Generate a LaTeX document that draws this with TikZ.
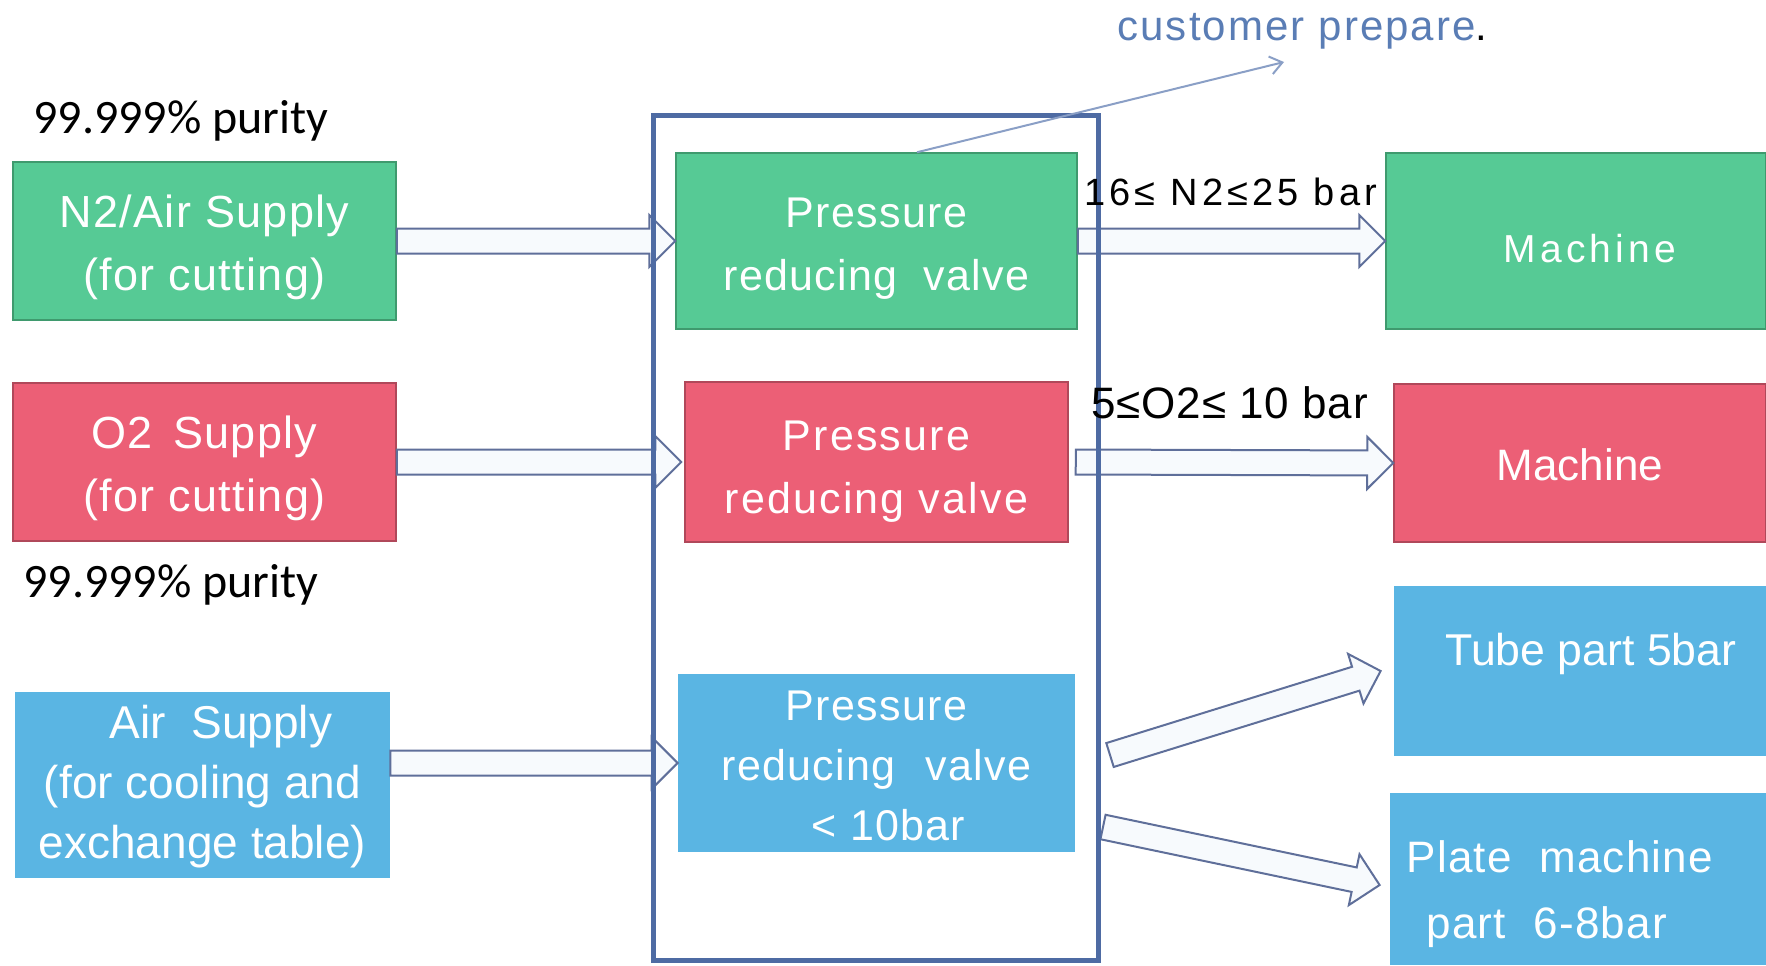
\documentclass[tikz,border=0pt]{standalone}
\usepackage{fontspec}
\setmainfont{Liberation Sans}
\newfontfamily\calfont{Carlito}
\usetikzlibrary{calc,arrows.meta}
\definecolor{gfill}{HTML}{56CA95}
\definecolor{gedge}{HTML}{3F9A6E}
\definecolor{rfill}{HTML}{EC5F76}
\definecolor{redge}{HTML}{B0485A}
\definecolor{bfill}{HTML}{5AB5E3}
\definecolor{framec}{HTML}{4E6BA3}
\definecolor{arredge}{HTML}{5F6F9A}
\definecolor{arrfill}{HTML}{F7FAFD}
\definecolor{custc}{HTML}{5A7DB5}
\definecolor{leadc}{HTML}{8A9FC6}
\begin{document}
\begin{tikzpicture}[x=0.5pt,y=-0.5pt,
  box/.style={rectangle, inner sep=0pt},
  gbox/.style={box, fill=gfill, draw=gedge, line width=0.75pt},
  rbox/.style={box, fill=rfill, draw=redge, line width=0.75pt},
  bbox/.style={box, fill=bfill},
  intext/.style={inner sep=0pt, align=center, text=white},
  supfont/.style={font=\fontsize{22.5pt}{31.5pt}\selectfont\addfontfeature{LetterSpace=3}},
  prvfont/.style={font=\fontsize{21.5pt}{31.5pt}\selectfont\addfontfeature{LetterSpace=3}},
  lbl/.style={inner sep=0pt, anchor=base west},
  wlbl/.style={lbl, text=white},
  framebox/.style={rectangle, draw=framec, line width=2.5pt, inner sep=0pt},
  blockarrow/.style={draw=arredge, fill=arrfill, line width=1pt, line join=miter,
    to path={
      ($(\tikztostart)!6.25pt!90:(\tikztotarget)$)
      -- ($($(\tikztotarget)!13pt!(\tikztostart)$)!6.25pt!90:(\tikztotarget)$)
      -- ($($(\tikztotarget)!13pt!(\tikztostart)$)!13pt!90:(\tikztotarget)$)
      -- (\tikztotarget)
      -- ($($(\tikztotarget)!13pt!(\tikztostart)$)!13pt!-90:(\tikztotarget)$)
      -- ($($(\tikztotarget)!13pt!(\tikztostart)$)!6.25pt!-90:(\tikztotarget)$)
      -- ($(\tikztostart)!6.25pt!-90:(\tikztotarget)$)
      -- cycle}},
  leader/.style={draw=leadc, line width=1pt, -{Straight Barb[length=6pt,width=9pt]}}
]
\useasboundingbox (0,0) rectangle (1766,965);

% source boxes
\node[gbox, minimum width=191.5pt, minimum height=79pt] (n2sup) at (204.5,241) {};
\node[intext, supfont, yshift=-3pt] (n2supt) at (n2sup) {N2/Air Supply\\(for cutting)};
\node[rbox, minimum width=191.5pt, minimum height=79pt] (o2sup) at (204.5,462) {};
\node[intext, supfont, yshift=-3pt] (o2supt) at (o2sup) {O2\hspace{0.45em}Supply\\(for cutting)};
\node[bbox, minimum width=187.5pt, minimum height=93pt] (airsup) at (202.5,785) {};
\node[intext, font=\fontsize{23pt}{30pt}\selectfont, yshift=-1pt] (airsupt) at (airsup)
  {\hspace*{0.8em}Air\ \ Supply\\(for cooling and\\exchange table)};

% valves
\node[gbox, minimum width=200.5pt, minimum height=88pt] (prvg) at (876.5,241) {};
\node[intext, prvfont, yshift=-4pt] (prvgt) at (prvg) {Pressure\\reducing\ \ valve};
\node[rbox, minimum width=191.5pt, minimum height=80pt] (prvr) at (876.5,462) {};
\node[intext, font=\fontsize{21.5pt}{31.5pt}\selectfont\addfontfeature{LetterSpace=5}, yshift=-5pt] (prvrt) at (prvr)
  {Pressure\\reducing valve};
\node[bbox, minimum width=198.5pt, minimum height=89pt] (prvb) at (876.5,763) {};
\node[intext, font=\fontsize{21.5pt}{30pt}\selectfont\addfontfeature{LetterSpace=3}, yshift=-1.5pt] (prvbt) at (prvb)
  {Pressure\\reducing\hspace{0.7em}valve\\\hspace*{0.56em}<\ 10bar};

% machines
\node[gbox, minimum width=190pt, minimum height=88pt] (machg) at (1576,241) {};
\node[intext, font=\fontsize{19.5pt}{24pt}\selectfont\addfontfeature{LetterSpace=11}, yshift=-4pt] (machgt) at ([xshift=7pt]machg.center)
  {Machine};
\node[rbox, minimum width=186pt, minimum height=79pt] (machr) at (1580,463) {};
\node[intext, font=\fontsize{22pt}{26pt}\selectfont, yshift=-1pt] (machrt) at (machr) {Machine};
\node[bbox, minimum width=186pt, minimum height=85pt] (tube) at (1580,671) {};
\node[bbox, minimum width=188pt, minimum height=86pt] (plate) at (1578,879) {};
\node[wlbl, font=\fontsize{22.3pt}{26pt}\selectfont] (tubetxt) at (1445,665) {Tube part 5bar};
\node[wlbl, font=\fontsize{22pt}{26pt}\selectfont\addfontfeature{LetterSpace=3}] (platetxt1) at (1406,872) {Plate\ \ machine};
\node[wlbl, font=\fontsize{22pt}{26pt}\selectfont\addfontfeature{LetterSpace=3}] (platetxt2) at (1426,938) {part\ \ 6-8bar};

% free ends
\coordinate (d1) at (1110,755);
\coordinate (d2) at (1103,827);
\coordinate (cp) at (1284,62);

% block arrows
\draw[blockarrow] (n2sup.east) to (prvg.west);
\draw[blockarrow] (o2sup.east) to ([xshift=-1.5pt]prvr.west);
\draw[blockarrow] (airsup.east |- prvb.west) to (prvb.west);
\draw[blockarrow] (prvg.east) to (machg.west);
\draw[blockarrow] ([xshift=3.5pt]prvr.east) to (machr.west);
\draw[blockarrow] (d1) to ([xshift=-6.5pt]tube.west);
\draw[blockarrow] (d2) to ([shift={(-5pt,-3pt)}]plate.west);

% frame
\node[framebox, minimum width=222.5pt, minimum height=422.5pt] (frame) at (875.5,537.5) {};

% leader
\draw[leader] ([xshift=20.25pt]prvg.north) -- (cp);

% labels
\node[lbl, font=\calfont\fontsize{24pt}{27pt}\selectfont] (pur1) at (33,133) {99.999\% purity};
\node[lbl, font=\calfont\fontsize{24pt}{27pt}\selectfont] (pur2) at (23,597) {99.999\% purity};
\node[lbl, font=\fontsize{19pt}{22pt}\selectfont\addfontfeature{LetterSpace=11}] (n2lbl) at (1084,205) {16≤ N2≤25 bar};
\node[lbl, font=\fontsize{22pt}{25pt}\selectfont\addfontfeature{LetterSpace=2}] (o2lbl) at (1091,418) {5≤O2≤ 10 bar};
\node[lbl, font=\fontsize{21pt}{24pt}\selectfont] (cust) at (1117,40)
  {{\addfontfeature{LetterSpace=5}\color{custc}customer\ prepare}.};
\end{tikzpicture}
\end{document}
